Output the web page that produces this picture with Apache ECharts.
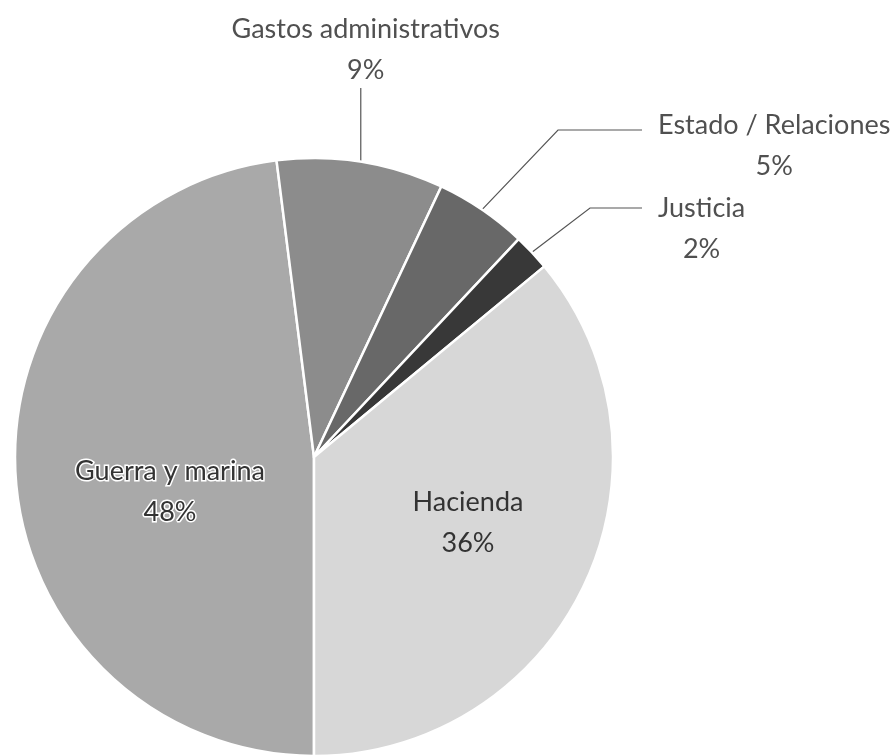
<!DOCTYPE html>
<html>
<head>
<meta charset="utf-8">
<script src="https://cdn.jsdelivr.net/npm/echarts@6/dist/echarts.min.js"></script>
<style>
  html, body { margin: 0; padding: 0; background: #ffffff; }
  #chart { width: 891px; height: 756px; }
</style>
</head>
<body>
<div id="chart"></div>
<script>
// Distribución del gasto por ramo (%), en el orden en que se dibujan las porciones
const categories = ['Guerra y marina', 'Gastos administrativos', 'Estado / Relaciones', 'Justicia', 'Hacienda'];
const shares = [48, 9, 5, 2, 36];
const sliceColors = ['#a9a9a9', '#8c8c8c', '#686868', '#383838', '#d7d7d7'];

const FONT = 'Lato, "Open Sans", sans-serif';

const chart = echarts.init(document.getElementById('chart'), null, { renderer: 'canvas' });

// Which slices carry their label inside the pie
const insideLabel = [true, false, false, false, true];

const data = categories.map((name, i) => ({
  name: name,
  value: shares[i],
  itemStyle: { color: sliceColors[i] },
  label: insideLabel[i]
    ? { position: 'inside', color: '#333333', textBorderColor: i === 0 ? '#ffffff' : 'transparent', textBorderWidth: i === 0 ? 3 : 0 }
    : { position: 'outside', color: '#505050' },
  labelLine: { show: !insideLabel[i] }
}));

chart.setOption({
  backgroundColor: '#ffffff',
  animation: false,
  series: [{
    type: 'pie',
    center: [314, 457],
    radius: 299,
    startAngle: -90,
    clockwise: true,
    avoidLabelOverlap: false,
    minShowLabelAngle: 0,
    data: data,
    itemStyle: { borderColor: '#ffffff', borderWidth: 2.5 },
    label: {
      formatter: '{b}\n{c}%',
      fontFamily: FONT,
      fontSize: 27,
      lineHeight: 41,
      align: 'center'
    },
    labelLine: {
      lineStyle: { color: '#555555', width: 1.2 },
      length: 20,
      length2: 20
    },
    labelLayout: function (p) {
      const w = p.labelRect.width;
      const a = p.labelLinePoints ? p.labelLinePoints[0] : null;
      switch (p.dataIndex) {
        case 0: // Guerra y marina
          return { x: 170, y: 492, align: 'center', verticalAlign: 'middle' };
        case 4: // Hacienda
          return { x: 468, y: 523, align: 'center', verticalAlign: 'middle' };
        case 1: // Gastos administrativos: vertical leader up to the label
          return {
            x: a[0] + 5, y: 50, align: 'center', verticalAlign: 'middle',
            labelLinePoints: [[a[0], a[1]], [a[0], 88], [a[0], 88]]
          };
        case 2: // Estado / Relaciones
          return {
            x: 658 + w / 2, y: 146, align: 'center', verticalAlign: 'middle',
            labelLinePoints: [[a[0], a[1]], [558, 130], [642, 130]]
          };
        case 3: // Justicia
          return {
            x: 658 + w / 2, y: 229, align: 'center', verticalAlign: 'middle',
            labelLinePoints: [[a[0], a[1]], [590, 208], [642, 208]]
          };
      }
    }
  }]
});
</script>
</body>
</html>
